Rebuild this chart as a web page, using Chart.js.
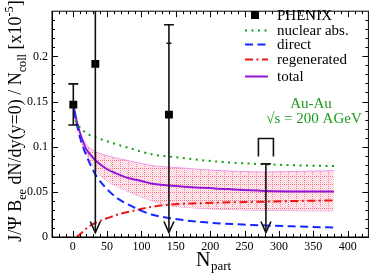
<!DOCTYPE html>
<html><head><meta charset="utf-8">
<script src="https://cdn.jsdelivr.net/npm/chart.js@4/dist/chart.umd.min.js"></script>
<style>html,body{margin:0;padding:0;background:#fff}#wrap{width:374px;height:275px}</style>
</head><body><div id="wrap"><canvas id="c" width="374" height="275"></canvas></div>
<script>
// ---- tick labels ----
const xTicks = [0, 50, 100, 150, 200, 250, 300, 350, 400];
const yTicks = [0, 0.05, 0.1, 0.15, 0.2];
const yTickLabels = ['0', '0.05', '0.1', '0.15', '0.2'];

// ---- PHENIX data ----
const phenixN = [1, 33, 140, 281];
const phenixY = [0.1466, 0.1917, 0.1355, null];
const phenixErrHigh = [0.1695, 0.30, 0.235, 0.081];
const phenixErrLow = [0.124, 0.005, 0.005, 0.005];
const phenixLowIsLimit = [false, true, true, true];
const sysBracketN = [281];
const sysBracketLow = [0.089];
const sysBracketHigh = [0.109];
const sysTickN = [140];
const sysTickY = [0.2145];

// ---- model curves ----
const nucN = [4, 10, 20, 35, 50, 82, 116, 154, 207, 264, 320, 380];
const nucY = [0.129, 0.122, 0.115, 0.110, 0.106, 0.0985, 0.0915, 0.088, 0.0837, 0.081, 0.0795, 0.0785];

const dirN = [2, 6, 10, 15, 20, 27, 35, 50, 63, 82, 100, 116, 140, 188, 260, 320, 380];
const dirY = [0.140, 0.125, 0.112, 0.100, 0.090, 0.078, 0.067, 0.053, 0.044, 0.0355, 0.029, 0.0247, 0.021, 0.0165, 0.0134, 0.0118, 0.0105];

const regN = [6, 15, 25, 39, 55, 68, 82, 116, 135, 188, 207, 269, 320, 380];
const regY = [0.0, 0.006, 0.0123, 0.0176, 0.022, 0.0255, 0.028, 0.0335, 0.0355, 0.0375, 0.038, 0.039, 0.0398, 0.0405];

const totN = [2, 6, 10, 15, 20, 27, 35, 50, 63, 82, 100, 116, 154, 207, 279, 380];
const totY = [0.143, 0.128, 0.117, 0.106, 0.097, 0.090, 0.0835, 0.075, 0.0705, 0.065, 0.062, 0.059, 0.0563, 0.0538, 0.051, 0.0503];

const bandN = [12, 15, 20, 35, 50, 82, 116, 140, 154, 207, 279, 380];
const bandUpper = [0.111, 0.108, 0.102, 0.094, 0.090, 0.0844, 0.079, 0.0775, 0.0767, 0.0738, 0.072, 0.0735];
const bandLower = [0.111, 0.100, 0.092, 0.073, 0.062, 0.050, 0.040, 0.035, 0.0335, 0.031, 0.0295, 0.029];

const legendLabels = ['PHENIX', 'nuclear abs.', 'direct', 'regenerated', 'total'];

const FONT = "'Liberation Serif', 'DejaVu Serif', serif";
const GREEN = 'rgb(20,160,20)';
const BLUE = 'rgb(20,40,255)';
const RED = 'rgb(240,20,20)';
const PURPLE = 'rgb(150,20,215)';

const pts = (xs, ys) => xs.map((x, i) => ({ x: x, y: ys[i] }));

const canvas = document.getElementById('c');
const mainCtx = canvas.getContext('2d');
function makePattern() {
  const c = document.createElement('canvas'); c.width = 8; c.height = 8;
  const g = c.getContext('2d');
  g.fillStyle = '#fff0f3'; g.fillRect(0, 0, 8, 8);
  g.fillStyle = '#ffd2da';
  for (let i = 0; i < 8; i++) for (let j = 0; j < 8; j++) if ((i + j) % 2 === 0) g.fillRect(i, j, 1, 1);
  g.fillStyle = '#ff6a80';
  for (let j = 0; j < 8; j += 2) g.fillRect(0, j, 1, 1);
  for (let i = 2; i < 8; i += 2) g.fillRect(i, 0, 1, 1);
  return mainCtx.createPattern(c, 'repeat');
}
const bandPattern = makePattern();

const errorBarPlugin = {
  id: 'errorBars',
  afterDatasetsDraw(chart) {
    const ctx = chart.ctx, xs = chart.scales.x, ys = chart.scales.y, a = chart.chartArea;
    ctx.save();
    ctx.beginPath(); ctx.rect(a.left, a.top, a.right - a.left, a.bottom - a.top); ctx.clip();
    ctx.strokeStyle = '#111'; ctx.lineWidth = 1.6; ctx.lineCap = 'butt';
    phenixN.forEach((n, i) => {
      const px = xs.getPixelForValue(n);
      const yh = ys.getPixelForValue(phenixErrHigh[i]);
      const yl = ys.getPixelForValue(phenixErrLow[i]);
      ctx.beginPath(); ctx.moveTo(px, yh); ctx.lineTo(px, yl); ctx.stroke();
      ctx.beginPath(); ctx.moveTo(px - 5, yh); ctx.lineTo(px + 5, yh); ctx.stroke();
      if (phenixLowIsLimit[i]) {
        ctx.beginPath(); ctx.moveTo(px - 5, yl - 11); ctx.lineTo(px, yl); ctx.lineTo(px + 5, yl - 11); ctx.stroke();
      } else {
        ctx.beginPath(); ctx.moveTo(px - 5, yl); ctx.lineTo(px + 5, yl); ctx.stroke();
      }
    });
    sysTickN.forEach((n, i) => {
      const px = xs.getPixelForValue(n), py = ys.getPixelForValue(sysTickY[i]);
      ctx.beginPath(); ctx.moveTo(px - 2.5, py); ctx.lineTo(px + 2.5, py); ctx.stroke();
    });
    sysBracketN.forEach((n, i) => {
      const px = xs.getPixelForValue(n), pl = ys.getPixelForValue(sysBracketLow[i]), ph = ys.getPixelForValue(sysBracketHigh[i]);
      ctx.beginPath(); ctx.moveTo(px - 7.5, pl); ctx.lineTo(px - 7.5, ph); ctx.lineTo(px + 7.5, ph); ctx.lineTo(px + 7.5, pl); ctx.stroke();
    });
    ctx.restore();
  }
};

function drawRich(ctx, parts, x, y, base) {
  let cx = x;
  parts.forEach(p => {
    const size = p.sub || p.sup ? base * 0.68 : base;
    ctx.font = size + 'px ' + FONT;
    const dy = p.sub ? base * 0.28 : (p.sup ? -base * 0.42 : 0);
    ctx.fillText(p.t, cx, y + dy);
    cx += ctx.measureText(p.t).width;
  });
  return cx - x;
}
function richWidth(ctx, parts, base) {
  let w = 0;
  parts.forEach(p => {
    const size = p.sub || p.sup ? base * 0.68 : base;
    ctx.font = size + 'px ' + FONT;
    w += ctx.measureText(p.t).width;
  });
  return w;
}

const decorPlugin = {
  id: 'decor',
  afterDraw(chart) {
    const ctx = chart.ctx, xs = chart.scales.x, ys = chart.scales.y, a = chart.chartArea;
    ctx.save();
    // frame
    ctx.strokeStyle = '#000'; ctx.lineWidth = 1;
    ctx.strokeRect(a.left, a.top, a.right - a.left, a.bottom - a.top);
    // inside ticks all sides
    ctx.beginPath();
    for (let v = -30; v <= 430; v += 10) {
      const px = Math.round(xs.getPixelForValue(v)) + 0.5;
      if (px <= a.left + 1 || px >= a.right - 1) continue;
      const L = (v % 50 === 0) ? 6 : 3;
      ctx.moveTo(px, a.bottom); ctx.lineTo(px, a.bottom - L);
      ctx.moveTo(px, a.top); ctx.lineTo(px, a.top + L);
    }
    for (let k = 0; k <= 25; k++) {
      const v = k / 100;
      const py = Math.round(ys.getPixelForValue(v)) + 0.5;
      if (py <= a.top + 1 || py >= a.bottom - 1) continue;
      const L = (k % 5 === 0) ? 6 : 3;
      ctx.moveTo(a.left, py); ctx.lineTo(a.left + L, py);
      ctx.moveTo(a.right, py); ctx.lineTo(a.right - L, py);
    }
    ctx.stroke();

    ctx.fillStyle = '#000';
    ctx.textAlign = 'left'; ctx.textBaseline = 'alphabetic';
    // x title
    ctx.font = '20px ' + FONT;
    ctx.fillText('N', 196, 266);
    const nw = ctx.measureText('N').width;
    ctx.font = '13px ' + FONT;
    ctx.fillText('part', 196 + nw + 0.5, 270);

    // y title
    const yParts = [{ t: 'J/\u03A8 B' }, { t: 'ee', sub: true }, { t: ' dN/dy(y=0) / N' }, { t: 'coll', sub: true }, { t: ' [x10' }, { t: '-5', sup: true }, { t: ']' }];
    const base = 18;
    const w = richWidth(ctx, yParts, base);
    ctx.save();
    ctx.translate(21, 121 + w / 2);
    ctx.rotate(-Math.PI / 2);
    drawRich(ctx, yParts, 0, 0, base);
    ctx.restore();

    // legend
    const rows = [15, 30, 44, 59, 76];
    const sx0 = 245, sx1 = 268, tx = 277;
    const ds = chart.data.datasets;
    ctx.font = '15px ' + FONT;
    ctx.textBaseline = 'middle';
    legendLabels.forEach((lab, i) => {
      const y = rows[i];
      const d = ds[i];
      if (i === 0) {
        ctx.fillStyle = '#000'; ctx.fillRect(251, y - 4, 8, 8);
      } else {
        ctx.save();
        ctx.strokeStyle = d.borderColor; ctx.lineWidth = d.borderWidth;
        ctx.setLineDash(d.borderDash || []);
        ctx.beginPath(); ctx.moveTo(sx0, y + 0.5); ctx.lineTo(sx1, y + 0.5); ctx.stroke();
        ctx.restore();
      }
      ctx.fillStyle = '#000';
      ctx.fillText(lab, tx, y + 1);
    });

    // annotation
    ctx.fillStyle = 'rgb(30,155,30)';
    ctx.textAlign = 'center'; ctx.textBaseline = 'alphabetic';
    ctx.font = '15px ' + FONT;
    ctx.fillText('Au-Au', 311, 108);
    ctx.fillText('\u221As = 200 AGeV', 314, 123);
    ctx.restore();
  }
};

new Chart(canvas, {
  type: 'scatter',
  data: {
    datasets: [
      { label: 'PHENIX', data: pts(phenixN, phenixY), pointStyle: 'rect', pointRadius: 5.6, pointHoverRadius: 5.6,
        backgroundColor: '#000', borderColor: '#000', borderWidth: 0, showLine: false },
      { label: 'nuclear abs.', data: pts(nucN, nucY), showLine: true, borderColor: GREEN, borderWidth: 2,
        borderDash: [2, 4.5], pointRadius: 0, cubicInterpolationMode: 'monotone', fill: false },
      { label: 'direct', data: pts(dirN, dirY), showLine: true, borderColor: BLUE, borderWidth: 2,
        borderDash: [8, 4.5], pointRadius: 0, cubicInterpolationMode: 'monotone', fill: false },
      { label: 'regenerated', data: pts(regN, regY), showLine: true, borderColor: RED, borderWidth: 2,
        borderDash: [8, 3.5, 2, 3.5], pointRadius: 0, cubicInterpolationMode: 'monotone', fill: false },
      { label: 'total', data: pts(totN, totY), showLine: true, borderColor: PURPLE, borderWidth: 2,
        pointRadius: 0, cubicInterpolationMode: 'monotone', fill: false },
      { label: 'band upper', data: pts(bandN, bandUpper), showLine: true, borderColor: 'rgba(230,140,230,0.85)', borderWidth: 1,
        pointRadius: 0, cubicInterpolationMode: 'monotone', fill: '+1', backgroundColor: bandPattern },
      { label: 'band lower', data: pts(bandN, bandLower), showLine: true, borderColor: 'rgba(230,140,230,0.85)', borderWidth: 1,
        pointRadius: 0, cubicInterpolationMode: 'monotone', fill: false }
    ]
  },
  options: {
    responsive: false, animation: false, devicePixelRatio: 1,
    layout: { padding: { top: 1, right: 2, left: 0, bottom: 0 } },
    plugins: { legend: { display: false }, tooltip: { enabled: false } },
    scales: {
      x: {
        type: 'linear', min: -30, max: 430,
        afterBuildTicks: s => { s.ticks = xTicks.map(v => ({ value: v })); },
        afterFit: s => { s.height = 38; },
        grid: { display: false, drawTicks: false },
        border: { display: true, color: '#000', width: 1 },
        ticks: { color: '#000', font: { family: FONT, size: 12 }, padding: 3, maxRotation: 0, autoSkip: false,
          callback: v => String(v) }
      },
      y: {
        type: 'linear', min: 0, max: 0.25,
        afterBuildTicks: s => { s.ticks = yTicks.map(v => ({ value: v })); },
        afterFit: s => { s.width = 52; },
        grid: { display: false, drawTicks: false },
        border: { display: true, color: '#000', width: 1 },
        ticks: { color: '#000', font: { family: FONT, size: 12 }, padding: 4, autoSkip: false,
          callback: (v) => { const i = yTicks.findIndex(t => Math.abs(t - v) < 1e-9); return i >= 0 ? yTickLabels[i] : ''; } }
      }
    }
  },
  plugins: [errorBarPlugin, decorPlugin]
});
</script>
</body></html>
